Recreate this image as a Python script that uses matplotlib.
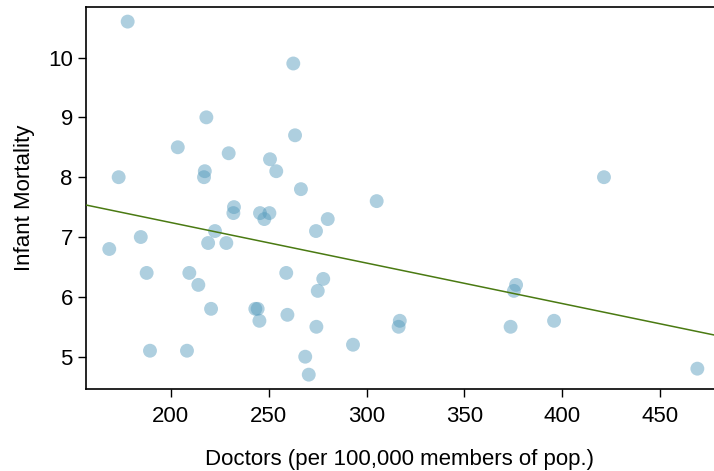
import numpy as np
import matplotlib
matplotlib.use("Agg")
import matplotlib.pyplot as plt

plt.rcParams["font.family"] = ["Liberation Sans", "DejaVu Sans"]

# doctors per 100,000 and infant mortality
doctors = [178.0, 262.6, 218.2, 203.6, 263.5, 229.6, 250.7, 173.4, 217.4, 217.0,
           253.9, 266.5, 232.3, 232.0, 245.6, 250.4, 247.8, 280.2, 274.2, 222.6,
           184.7, 168.6, 219.1, 228.4, 187.7, 209.5, 214.1, 259.0, 277.9, 275.1,
           220.6, 243.2, 244.4, 245.3, 259.6, 274.4, 189.4, 208.3, 268.7, 270.5,
           293.1, 305.2, 421.3, 317.0, 316.4, 376.4, 375.3, 373.6, 395.8, 469.0]
mortality = [10.6, 9.9, 9.0, 8.5, 8.7, 8.4, 8.3, 8.0, 8.1, 8.0,
             8.1, 7.8, 7.5, 7.4, 7.4, 7.4, 7.3, 7.3, 7.1, 7.1,
             7.0, 6.8, 6.9, 6.9, 6.4, 6.4, 6.2, 6.4, 6.3, 6.1,
             5.8, 5.8, 5.8, 5.6, 5.7, 5.5, 5.1, 5.1, 5.0, 4.7,
             5.2, 7.6, 8.0, 5.6, 5.5, 6.2, 6.1, 5.5, 5.6, 4.8]

# least squares line as drawn
fit_intercept = 8.596
fit_slope = -0.00677

fig = plt.figure(figsize=(7.14, 4.71), dpi=100)
ax = fig.add_axes([0.1204, 0.1747, 0.8796, 0.8103])

ax.scatter(doctors, mortality, s=100, color="#569BBD", alpha=0.48, edgecolors="none", zorder=2)

xlim = (156.7, 477.5)
xs = np.array(xlim)
ax.plot(xs, fit_intercept + fit_slope * xs, color="#4A7A12", lw=1.1, zorder=3)

ax.set_xlim(*xlim)
ax.set_ylim(4.465, 10.843)
ax.set_xticks([200, 250, 300, 350, 400, 450])
ax.set_yticks([5, 6, 7, 8, 9, 10])
ax.tick_params(labelsize=16, length=5.5, width=1, direction="out")
ax.tick_params(axis="x", pad=7)
ax.tick_params(axis="y", pad=4)
ax.spines["right"].set_visible(False)
for s in ["left", "bottom", "top"]:
    ax.spines[s].set_linewidth(1.2)

ax.set_xlabel("Doctors (per 100,000 members of pop.)", fontsize=16, labelpad=16)
ax.set_ylabel("Infant Mortality", fontsize=16, labelpad=9)

fig.savefig("out.png", dpi=100)
